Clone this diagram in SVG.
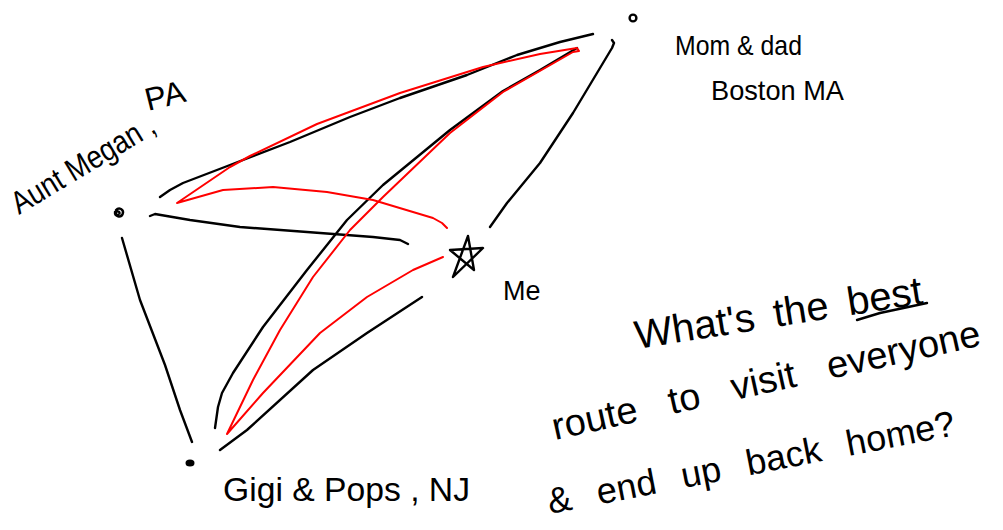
<svg xmlns="http://www.w3.org/2000/svg" width="1003" height="530" viewBox="0 0 1003 530">
  <style>
    .ink { fill: none; stroke: #000; stroke-width: 2.4; stroke-linecap: round; stroke-linejoin: round; }
    .red { fill: none; stroke: #ff0000; stroke-width: 2; stroke-linecap: round; stroke-linejoin: round; }
    .hand { font-family: "Liberation Sans", "DejaVu Sans", sans-serif; fill: #000; }
  </style>
  <rect width="1003" height="530" fill="#fff"/>

  <g id="connectors">
    <path class="ink" d="M160,197 L170,190 L183,183 L230,165 L290,142 L350,117 L400,98 L467,75 L517,55 L560,42 L593,34"/>
    <path class="ink" d="M150,216 L155,214 L190,220 L240,227 L307,232 L373,237 L400,240 L408,244"/>
    <path class="ink" d="M122,238 L140,300 L165,365 L180,410 L192,442"/>
    <path class="ink" d="M215,428 L218,407 L222,393 L233,373 L263,327 L307,270 L347,220 L383,185 L450,130 L503,91 L540,70 L577,48"/>
    <path class="ink" d="M220,450 L247,430 L313,370 L367,333 L422,297"/>
    <path class="ink" d="M490,227 L507,203 L540,163 L573,113 L612,48 L614,43 L612,40"/>
    <path class="red" d="M447,228 L442,223 L433,218 L373,200 L327,192 L273,187 L223,190 L177,203 L230,167 L250,156 L317,124 L400,93 L483,67 L540,54 L577,48 L579,51 L573,52 L503,92 L450,133 L383,197 L350,230 L313,277 L280,330 L253,380 L227,434 L263,393 L320,333 L367,297 L413,270 L443,257"/>
  </g>

  <g id="aunt-megan">
    <path class="ink" d="M118,215 a1.8,1.8 0 1,1 1.5,-1.5 M115,212 a4,4 0 1,0 6,-3 a4.5,4.5 0 0,0 -5,1"/>
    <text class="hand" font-size="32" textLength="162" lengthAdjust="spacingAndGlyphs" transform="translate(19,215) rotate(-31)">Aunt Megan ,</text>
    <text class="hand" font-size="32" transform="translate(148,111) rotate(-14)">PA</text>
  </g>

  <g id="mom-dad">
    <circle class="ink" cx="633" cy="18" r="3.4" stroke-width="2.8"/>
    <text class="hand" font-size="28" textLength="127" lengthAdjust="spacingAndGlyphs" x="675" y="55">Mom &amp; dad</text>
    <text class="hand" font-size="28" textLength="133" lengthAdjust="spacingAndGlyphs" x="711" y="100">Boston MA</text>
  </g>

  <g id="me">
    <path class="ink" d="M468,236 L453,277 L483,248 L450,250 L474,270 Z"/>
    <text class="hand" font-size="27" x="503" y="300">Me</text>
  </g>

  <g id="gigi-pops">
    <ellipse cx="190" cy="463" rx="4.5" ry="3.5" fill="#000"/>
    <text class="hand" font-size="34" textLength="247" lengthAdjust="spacingAndGlyphs" x="223" y="501">Gigi &amp; Pops , NJ</text>
  </g>

  <g id="question">
    <text class="hand" font-size="40" word-spacing="8" transform="translate(637,349) rotate(-9)">What's the best</text>
    <path class="ink" d="M857,320 L880,313 L927,303"/>
    <text class="hand" font-size="38" word-spacing="22" transform="translate(555,440) rotate(-12.5)">route to visit everyone</text>
    <text class="hand" font-size="36" word-spacing="16" transform="translate(550,514) rotate(-11)">&amp; end up back home?</text>
  </g>
</svg>
